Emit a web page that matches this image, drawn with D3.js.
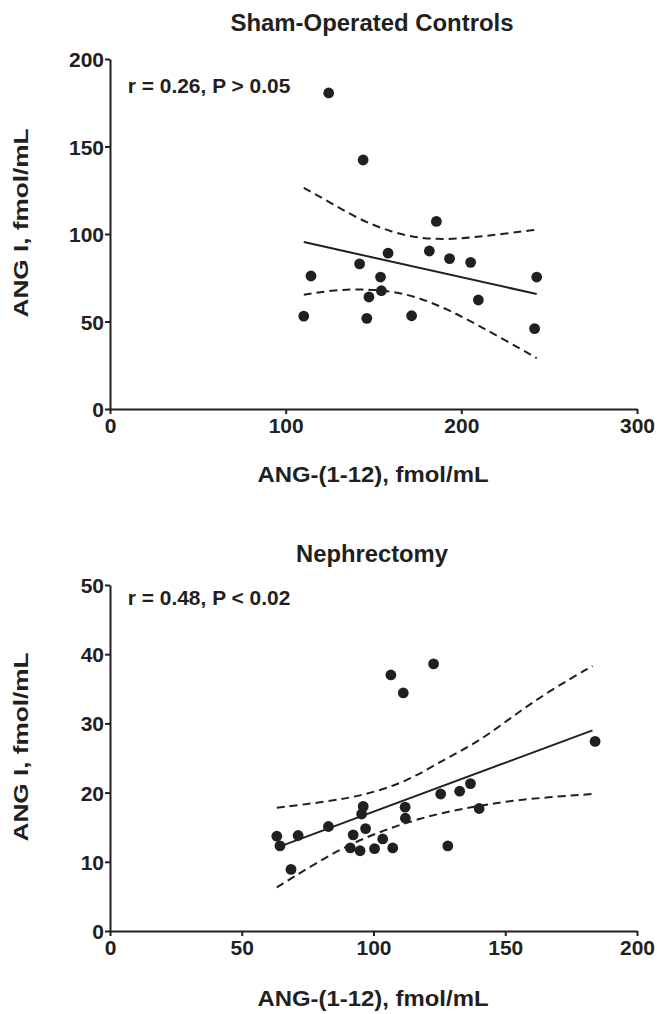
<!DOCTYPE html>
<html>
<head>
<meta charset="utf-8">
<script src="https://cdn.jsdelivr.net/npm/d3@7"></script>
<style>
  html, body { margin: 0; padding: 0; background: #fff; }
  svg { display: block; }
  text { font-family: "Liberation Sans", Arial, sans-serif; font-weight: bold; fill: #231f20; }
</style>
</head>
<body>
<svg id="chart" width="657" height="1014"></svg>
<script>
// ---------- Data: Sham-Operated Controls ----------
const shamX = [124.5, 144.1, 185.8, 158.3, 181.8, 193.3, 205.3, 142.1, 114.4, 154.0, 242.9, 154.5, 147.4, 209.7, 110.3, 146.2, 171.7, 241.7];
const shamY = [180.6, 142.3, 107.2, 89.1, 90.3, 85.9, 83.8, 82.9, 76.0, 75.4, 75.4, 67.6, 64.0, 62.3, 53.1, 51.8, 53.3, 45.9];
const shamFitX = [110.3, 242.9];
const shamFitY = [95.4, 65.7];
const shamUpperX = [110.3, 125.9, 142.1, 160.3, 176.5, 192.7, 208.9, 225.1, 242.9];
const shamUpperY = [126.3, 117.7, 108.2, 101.0, 97.5, 96.8, 98.3, 100.2, 102.5];
const shamLowerX = [110.3, 125.9, 142.1, 160.3, 176.5, 192.7, 208.9, 225.1, 242.9];
const shamLowerY = [65.3, 67.8, 68.6, 67.6, 63.4, 56.8, 48.2, 39.2, 29.1];
const shamXTicks = [0, 100, 200, 300];
const shamYTicks = [0, 50, 100, 150, 200];

// ---------- Data: Nephrectomy ----------
const nephX = [122.8, 106.6, 111.3, 184.1, 136.8, 132.7, 125.5, 96.1, 112.0, 140.1, 95.5, 112.1, 82.9, 97.0, 63.3, 71.4, 92.3, 103.5, 64.5, 128.2, 91.2, 100.4, 107.3, 94.9, 68.7];
const nephY = [38.6, 37.0, 34.4, 27.4, 21.3, 20.2, 19.8, 18.0, 17.9, 17.7, 16.9, 16.3, 15.1, 14.8, 13.7, 13.8, 13.9, 13.3, 12.3, 12.3, 12.0, 11.9, 12.0, 11.6, 8.9];
const nephFitX = [63.3, 183.1];
const nephFitY = [12.05, 29.0];
const nephUpperX = [63.3, 82.6, 96.1, 112.3, 125.8, 139.3, 152.8, 166.3, 183.1];
const nephUpperY = [17.8, 18.7, 19.6, 21.5, 24.6, 27.2, 31.0, 34.6, 38.3];
const nephLowerX = [63.3, 77.2, 90.7, 104.2, 117.7, 131.2, 144.7, 158.2, 183.1];
const nephLowerY = [6.3, 9.6, 12.5, 14.6, 16.3, 17.5, 18.4, 19.1, 19.8];
const nephXTicks = [0, 50, 100, 150, 200];
const nephYTicks = [0, 10, 20, 30, 40, 50];

const xTitle = "ANG-(1-12), fmol/mL";
const yTitle = "ANG I, fmol/mL";

const panels = [
  { title: "Sham-Operated Controls", titleW: 283, titleY: 31, note: "r = 0.26, P > 0.05", noteY: 93,
    xs: shamX, ys: shamY, fitX: shamFitX, fitY: shamFitY,
    upX: shamUpperX, upY: shamUpperY, loX: shamLowerX, loY: shamLowerY,
    xDom: [0, 300], yDom: [0, 200], xTicks: shamXTicks, yTicks: shamYTicks,
    top: 59, bottom: 409, xTitleY: 482, yTitleC: 223 },
  { title: "Nephrectomy", titleW: 152, titleY: 562, note: "r = 0.48, P < 0.02", noteY: 605,
    xs: nephX, ys: nephY, fitX: nephFitX, fitY: nephFitY,
    upX: nephUpperX, upY: nephUpperY, loX: nephLowerX, loY: nephLowerY,
    xDom: [0, 200], yDom: [0, 50], xTicks: nephXTicks, yTicks: nephYTicks,
    top: 585, bottom: 931, xTitleY: 1006, yTitleC: 747 }
];

const svg = d3.select("#chart");
const left = 110, right = 637;
const ink = "#231f20";

panels.forEach(p => {
  const x = d3.scaleLinear().domain(p.xDom).range([left, right]);
  const y = d3.scaleLinear().domain(p.yDom).range([p.bottom, p.top]);
  const g = svg.append("g");

  // axes
  const ax = g.append("g").attr("transform", `translate(0,${p.bottom})`)
    .call(d3.axisBottom(x).tickValues(p.xTicks).tickSize(5).tickSizeOuter(0).tickPadding(3));
  const ay = g.append("g").attr("transform", `translate(${left},0)`)
    .call(d3.axisLeft(y).tickValues(p.yTicks).tickSize(5).tickSizeOuter(0).tickPadding(1));
  [ax, ay].forEach(a => {
    a.select(".domain").attr("stroke", ink).attr("stroke-width", 2);
    a.selectAll(".tick line").attr("stroke", ink).attr("stroke-width", 2);
    a.selectAll(".tick text").attr("font-size", 21).attr("font-family", "Liberation Sans, Arial, sans-serif")
      .attr("font-weight", "bold").attr("fill", ink);
  });
  ax.selectAll(".tick text").attr("dy", "0.76em");
  ay.selectAll(".tick text").attr("dy", "0.36em");

  // fit and confidence bands
  const straight = d3.line().x(d => x(d[0])).y(d => y(d[1]));
  const smooth = d3.line().x(d => x(d[0])).y(d => y(d[1])).curve(d3.curveBasis);
  g.append("path").datum(d3.zip(p.fitX, p.fitY)).attr("d", straight)
    .attr("fill", "none").attr("stroke", ink).attr("stroke-width", 2);
  [[p.upX, p.upY], [p.loX, p.loY]].forEach(([cx, cy]) => {
    g.append("path").datum(d3.zip(cx, cy)).attr("d", smooth)
      .attr("fill", "none").attr("stroke", ink).attr("stroke-width", 2)
      .attr("stroke-dasharray", "8,5");
  });

  // points
  g.selectAll("circle").data(d3.zip(p.xs, p.ys)).join("circle")
    .attr("cx", d => x(d[0])).attr("cy", d => y(d[1])).attr("r", 5.4).attr("fill", ink);

  // texts
  g.append("text").attr("x", 372).attr("y", p.titleY).attr("text-anchor", "middle")
    .attr("font-size", 23).attr("textLength", p.titleW).attr("lengthAdjust", "spacingAndGlyphs").text(p.title);
  g.append("text").attr("x", 127.8).attr("y", p.noteY)
    .attr("font-size", 19.5).attr("textLength", 162.5).attr("lengthAdjust", "spacingAndGlyphs").text(p.note);
  g.append("text").attr("x", 373).attr("y", p.xTitleY).attr("text-anchor", "middle")
    .attr("font-size", 22).attr("textLength", 231).attr("lengthAdjust", "spacingAndGlyphs").text(xTitle);
  g.append("text").attr("transform", `translate(28,${p.yTitleC}) rotate(-90)`).attr("text-anchor", "middle")
    .attr("font-size", 21).attr("textLength", 189).attr("lengthAdjust", "spacingAndGlyphs").text(yTitle);
});
</script>
</body>
</html>
